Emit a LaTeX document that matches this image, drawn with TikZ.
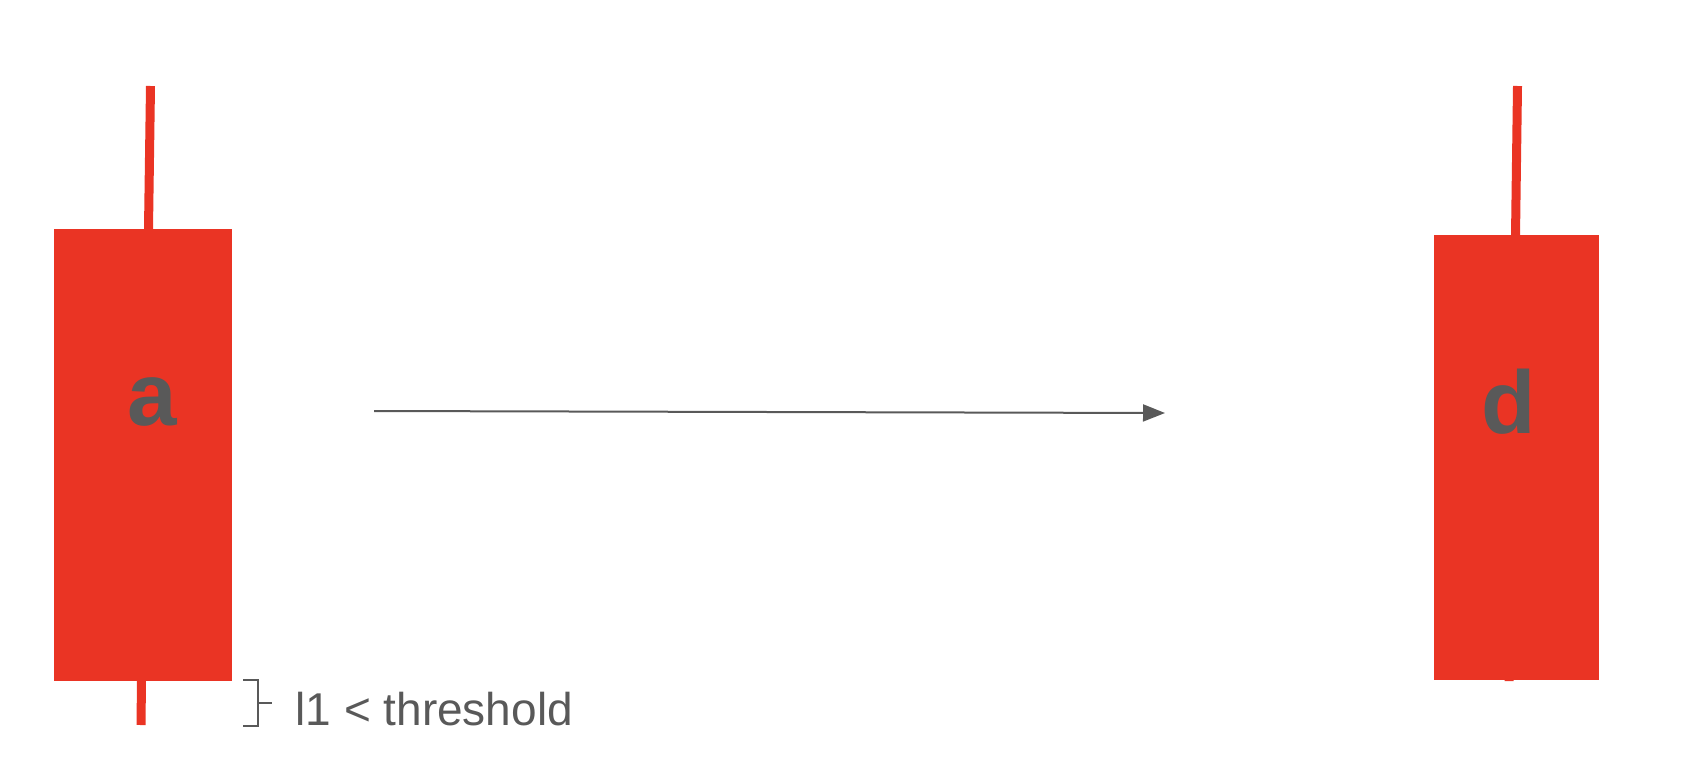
\documentclass[tikz,border=0pt]{standalone}
\usepackage{fontspec}
\setmainfont{Liberation Sans}
\usetikzlibrary{arrows.meta}
\definecolor{candlered}{RGB}{234,52,36}
\definecolor{labelgrey}{RGB}{89,89,89}

\begin{document}
\begin{tikzpicture}[x=1pt,y=-1pt,
  body/.style={fill=candlered, draw=none, inner sep=0pt, minimum width=#1},
  wick/.style={draw=candlered, line width=9pt},
  letter/.style={text=labelgrey, anchor=base, font=\fontsize{89}{89}\selectfont\bfseries},
  note/.style={text=labelgrey, anchor=base west, font=\fontsize{46}{46}\selectfont}]
	\useasboundingbox (0,0) rectangle (1684,766);

	% first candle
	\node[body=178pt, minimum height=452pt] (bodyA) at (143,455) {};
	\draw[wick] (150.5,86) -- (148.5,229) (141.5,681) -- (141,725);
	\node[letter] (letA) at (152,425) {a};

	% second candle
	\node[body=165pt, minimum height=445pt] (bodyD) at (1516.5,457.5) {};
	\draw[wick] (1517.5,86) -- (1515.5,236) (1509,680) -- (1509,681);
	\node[letter] (letD) at (1509,433) {d};

	% arrow between them
	\coordinate (arrS) at (374,411);
	\coordinate (arrE) at (1165,413);
	\draw[labelgrey, line width=2pt, -{Triangle[length=22pt,width=17pt]}] (arrS) -- (arrE);

	% bracket for the lower wick
	\draw[labelgrey, line width=2pt] (243,680) -- (258,680) -- (258,726) -- (243,726)
	      (258,703) -- (272,703);
	\node[note] (lowNote) at (292,725) {l1 < threshold};
\end{tikzpicture}
\end{document}
